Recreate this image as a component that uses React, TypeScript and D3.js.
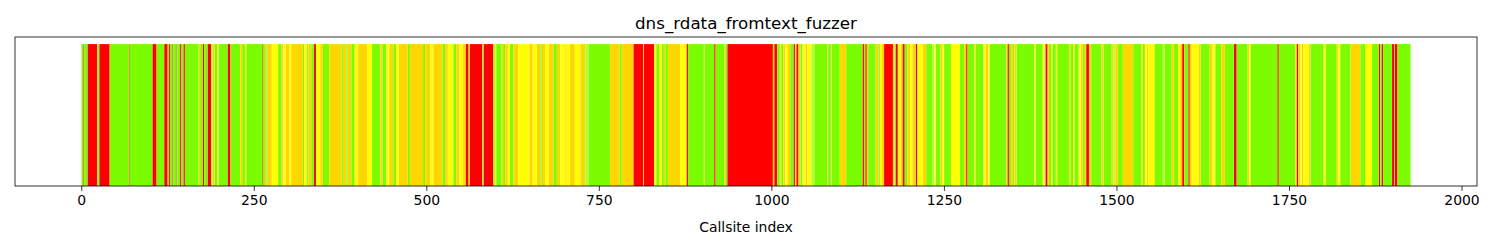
import React from 'react';
import * as d3 from 'd3';

const TITLE = 'dns_rdata_fromtext_fuzzer';
const X_LABEL = 'Callsite index';
const CALLSITE_COUNT = 1926;
const X_TICKS = [0, 250, 500, 750, 1000, 1250, 1500, 1750, 2000];

// hit-count colour classes
const COLOR_CODES = ['R', 'O', 'Y', 'L', 'G'];
const COLOR_VALUES = ['#ff0000', '#ffd700', '#ffff00', '#adff2f', '#7cfc00'];

// runs of consecutive callsites sharing a colour: first callsite index and colour code
const runStarts = [
  0, 3, 4, 9, 23, 26, 41, 69, 70, 103, 109, 120, 125, 127, 129, 132, 133, 138, 139, 143, 145, 148, 150,
  170, 172, 176, 178, 183, 188, 190, 193, 197, 199, 212, 216, 230, 233, 237, 239, 262, 263, 266, 268, 270,
  276, 285, 290, 293, 296, 301, 304, 321, 323, 327, 329, 333, 337, 340, 346, 350, 359, 377, 379, 384, 386,
  391, 396, 401, 414, 421, 433, 436, 442, 446, 452, 456, 460, 473, 476, 495, 498, 506, 510, 523, 527, 531,
  539, 543, 548, 553, 557, 561, 563, 581, 583, 597, 599, 601, 609, 611, 614, 618, 621, 626, 633, 649, 654,
  660, 665, 667, 672, 677, 684, 689, 694, 701, 703, 708, 715, 723, 730, 735, 766, 780, 783, 800, 814, 815,
  830, 833, 837, 841, 844, 846, 850, 868, 877, 879, 902, 903, 917, 919, 932, 934, 936, 1002, 1004, 1008,
  1012, 1014, 1017, 1020, 1023, 1027, 1032, 1034, 1036, 1039, 1042, 1045, 1049, 1052, 1058, 1062, 1081,
  1082, 1086, 1087, 1099, 1108, 1132, 1134, 1136, 1138, 1140, 1151, 1155, 1157, 1160, 1163, 1176, 1178,
  1180, 1183, 1187, 1190, 1193, 1197, 1201, 1204, 1209, 1211, 1212, 1219, 1224, 1233, 1236, 1238, 1245,
  1248, 1250, 1260, 1273, 1279, 1282, 1284, 1294, 1296, 1307, 1310, 1314, 1316, 1340, 1342, 1344, 1347,
  1350, 1352, 1355, 1381, 1383, 1393, 1396, 1397, 1400, 1402, 1405, 1407, 1412, 1414, 1431, 1433, 1437,
  1439, 1445, 1448, 1451, 1454, 1456, 1460, 1463, 1478, 1481, 1493, 1495, 1498, 1502, 1509, 1524, 1536,
  1538, 1541, 1544, 1546, 1555, 1567, 1570, 1580, 1583, 1589, 1592, 1595, 1598, 1604, 1606, 1609, 1619,
  1622, 1635, 1639, 1643, 1652, 1657, 1670, 1674, 1690, 1692, 1694, 1733, 1735, 1759, 1761, 1763, 1766,
  1768, 1771, 1778, 1781, 1800, 1803, 1819, 1821, 1824, 1839, 1853, 1860, 1870, 1880, 1882, 1884, 1886,
  1899, 1902, 1903, 1907,
];
const runColors = [
  'G', 'R', 'G', 'R', 'G', 'R', 'G', 'R', 'G', 'R', 'G', 'R', 'G', 'R', 'G', 'R', 'G', 'R', 'G', 'R', 'G', 'R', 'G',
  'O', 'G', 'R', 'G', 'R', 'G', 'O', 'G', 'Y', 'G', 'R', 'G', 'O', 'G', 'Y', 'G', 'R', 'G', 'O', 'G', 'O',
  'Y', 'G', 'O', 'Y', 'O', 'Y', 'O', 'G', 'Y', 'G', 'O', 'G', 'R', 'Y', 'O', 'G', 'O', 'G', 'O', 'G', 'O',
  'G', 'Y', 'O', 'Y', 'G', 'O', 'G', 'Y', 'O', 'G', 'Y', 'O', 'G', 'O', 'G', 'O', 'Y', 'O', 'G', 'O', 'Y',
  'G', 'O', 'Y', 'O', 'R', 'O', 'R', 'G', 'R', 'G', 'Y', 'G', 'O', 'G', 'O', 'Y', 'G', 'O', 'Y', 'O', 'Y',
  'O', 'G', 'O', 'Y', 'O', 'G', 'O', 'Y', 'O', 'Y', 'O', 'Y', 'O', 'L', 'G', 'O', 'G', 'O', 'R', 'O', 'R',
  'Y', 'G', 'Y', 'G', 'O', 'G', 'O', 'Y', 'R', 'G', 'O', 'G', 'R', 'G', 'O', 'G', 'R', 'O', 'R', 'G',
  'Y', 'G', 'O', 'Y', 'O', 'G', 'R', 'Y', 'R', 'O', 'G', 'Y', 'O', 'Y', 'L', 'G', 'O',
  'G', 'O', 'G', 'O', 'G', 'R', 'G', 'R', 'O', 'G', 'O', 'G', 'Y', 'O', 'R', 'O', 'G',
  'R', 'Y', 'O', 'R', 'G', 'O', 'Y', 'O', 'R', 'G', 'Y', 'O', 'G', 'L', 'Y', 'G', 'O',
  'Y', 'G', 'Y', 'G', 'O', 'R', 'G', 'O', 'G', 'Y', 'O', 'Y', 'G', 'O', 'R', 'G', 'O',
  'G', 'O', 'G', 'Y', 'G', 'Y', 'O', 'R', 'O', 'G', 'Y', 'G', 'Y', 'G', 'O', 'G', 'Y',
  'G', 'Y', 'O', 'G', 'O', 'R', 'O', 'G', 'O', 'G', 'O', 'L', 'O', 'G', 'O', 'G', 'O',
  'G', 'Y', 'O', 'Y', 'G', 'L', 'G', 'O', 'G', 'Y', 'O', 'R', 'G', 'R', 'O', 'Y', 'O',
  'G', 'O', 'Y', 'G', 'O', 'G', 'R', 'G', 'O', 'Y', 'G', 'R', 'G', 'O', 'R', 'O', 'Y',
  'O', 'Y', 'O', 'G', 'Y', 'G', 'O', 'Y', 'G', 'O', 'G', 'Y', 'G', 'R', 'G', 'R', 'G',
  'R', 'O', 'R', 'G',
];

const WIDTH = 1500;
const HEIGHT = 250;
const AX_LEFT = 15;
const AX_RIGHT = 1477;
const AX_TOP = 37;
const AX_BOTTOM = 186;
const FONT = "'DejaVu Sans', sans-serif";

export default function App() {
  const colorScale = d3.scaleOrdinal<string, string>().domain(COLOR_CODES).range(COLOR_VALUES);
  const lo = -0.4;
  const hi = CALLSITE_COUNT - 1 + 0.4;
  const margin = 0.05 * (hi - lo);
  const x = d3.scaleLinear().domain([lo - margin, hi + margin]).range([AX_LEFT, AX_RIGHT]);
  const y = d3.scaleLinear().domain([0, 1.05]).range([AX_BOTTOM, AX_TOP]);

  const runs = runStarts.map((s, i) => {
    const e = i + 1 < runStarts.length ? runStarts[i + 1] : CALLSITE_COUNT;
    return { start: s, end: e, color: colorScale(runColors[i]) };
  });

  return (
    <svg
      width={WIDTH}
      height={HEIGHT}
      style={{ position: 'absolute', left: 0, top: 0, display: 'block', background: '#fff' }}
    >
      <rect x={0} y={0} width={WIDTH} height={HEIGHT} fill="#fff" />
      <g>
        {runs.map((r, i) => (
          <rect
            key={i}
            x={x(r.start - 0.4)}
            y={y(1)}
            width={x(r.end - 1 + 0.4) - x(r.start - 0.4)}
            height={y(0) - y(1)}
            fill={r.color}
          />
        ))}
      </g>
      <rect
        x={AX_LEFT}
        y={AX_TOP}
        width={AX_RIGHT - AX_LEFT}
        height={AX_BOTTOM - AX_TOP}
        fill="none"
        stroke="#000"
        strokeWidth={0.8}
      />
      {X_TICKS.map((t) => (
        <g key={t} transform={`translate(${x(t)},0)`}>
          <line y1={AX_BOTTOM} y2={AX_BOTTOM + 4.9} stroke="#000" strokeWidth={0.8} />
          <text y={205} textAnchor="middle" fontFamily={FONT} fontSize={13.9} fill="#000">
            {t}
          </text>
        </g>
      ))}
      <text x={(AX_LEFT + AX_RIGHT) / 2} y={232} textAnchor="middle" fontFamily={FONT} fontSize={13.9} fill="#000">
        {X_LABEL}
      </text>
      <text x={(AX_LEFT + AX_RIGHT) / 2} y={29} textAnchor="middle" fontFamily={FONT} fontSize={16.7} fill="#000">
        {TITLE}
      </text>
    </svg>
  );
}
